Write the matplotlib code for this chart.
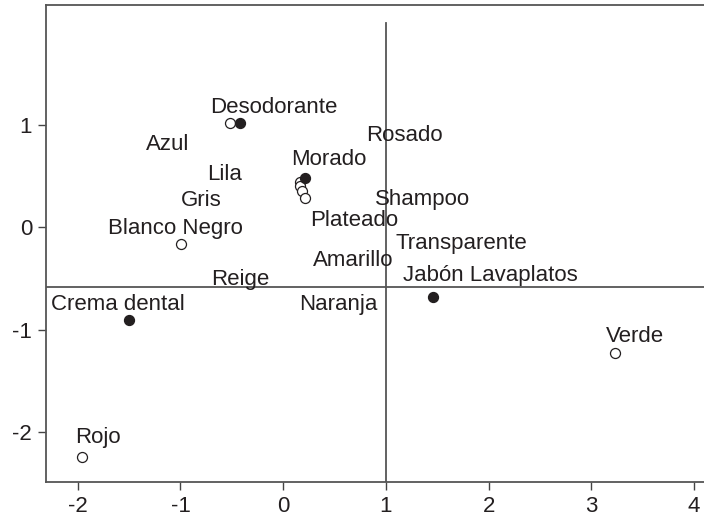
import matplotlib
matplotlib.use("Agg")
import matplotlib.pyplot as plt

plt.rcParams['font.family'] = ['Liberation Sans', 'DejaVu Sans']
plt.rcParams['axes.unicode_minus'] = False

# open circles (colours)
open_x = [-0.52, 0.16, 0.16, 0.18, 0.21, -0.995, -1.956, 3.23]
open_y = [1.02, 0.445, 0.40, 0.35, 0.29, -0.166, -2.24, -1.23]

# filled circles (products)
filled_x = [-0.42, 0.21, -1.50, 1.46]
filled_y = [1.02, 0.48, -0.906, -0.68]

# labels
labels = ["Desodorante", "Azul", "Lila", "Gris", "Blanco Negro", "Morado",
          "Rosado", "Shampoo", "Plateado", "Transparente", "Amarillo",
          "Jabón Lavaplatos", "Reige", "Naranja", "Crema dental", "Rojo", "Verde"]
label_x = [-0.094, -1.127, -0.567, -0.794, -1.046, 0.44,
           1.178, 1.353, 0.689, 1.738, 0.683,
           2.02, -0.42, 0.537, -1.61, -1.80, 3.425]
label_y = [1.117, 0.758, 0.465, 0.205, -0.065, 0.606,
           0.841, 0.221, 0.010, -0.209, -0.381,
           -0.525, -0.561, -0.805, -0.805, -2.108, -1.124]

# reference lines
ref_x = 1.0
ref_y = -0.586

ink = '#231f20'

fig = plt.figure(figsize=(7.04, 5.17), dpi=100)
ax = fig.add_axes([0.0653, 0.0677, 0.9496, 0.9226])
ax.set_xlim(-2.31, 4.2)
ax.set_ylim(-2.489, 2.172)

ax.plot([ref_x, ref_x], [-2.489, 2.0], color='#555555', lw=1.3, zorder=1)
ax.axhline(ref_y, color='#555555', lw=1.3, zorder=1)

ax.plot(open_x, open_y, 'o', mfc='white', mec=ink, mew=0.9, ms=7.2, zorder=3)
ax.plot(filled_x, filled_y, 'o', mfc=ink, mec=ink, mew=0.9, ms=7.2, zorder=4)

for t, x, y in zip(labels, label_x, label_y):
    ax.text(x, y, t, ha='center', va='baseline', fontsize=16, color=ink, zorder=5)

ax.set_xticks([-2, -1, 0, 1, 2, 3, 4])
ax.set_yticks([-2, -1, 0, 1])
ax.tick_params(direction='out', length=6, width=1.0, colors='#444444',
               labelcolor=ink, labelsize=16, pad=4)
for s in ax.spines.values():
    s.set_color('#555555')
    s.set_linewidth(1.3)
ax.spines['right'].set_visible(False)

fig.savefig('out.png', dpi=100)
